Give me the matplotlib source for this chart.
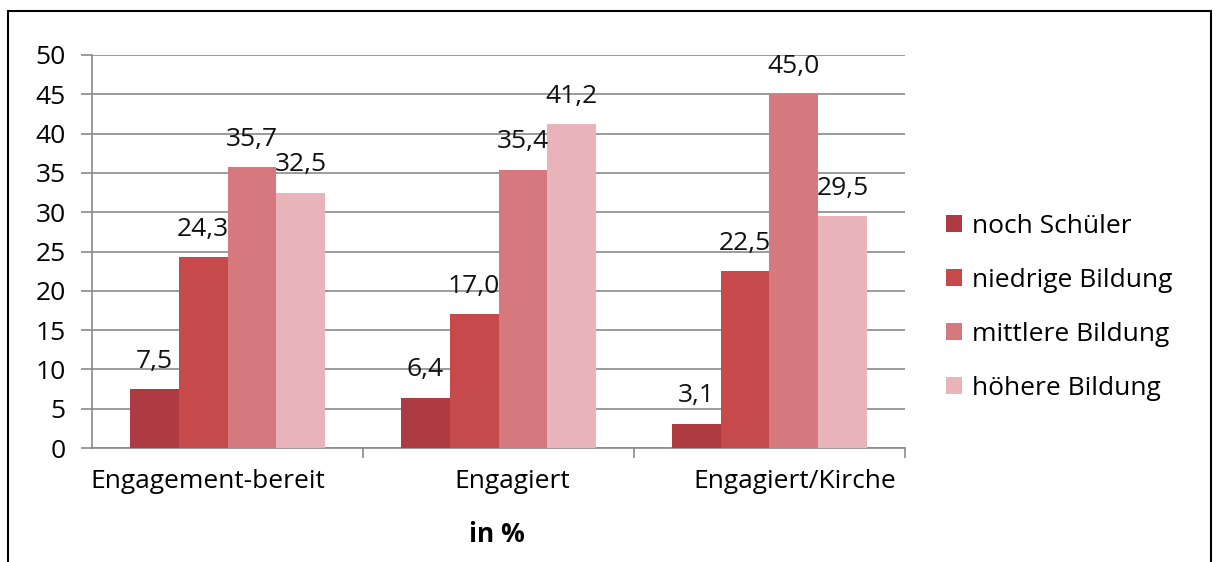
import matplotlib
matplotlib.use("Agg")
import matplotlib.pyplot as plt
import matplotlib.transforms as mtransforms
import numpy as np
from matplotlib.patches import Rectangle, Patch

categories = ["Engagement-bereit", "Engagiert", "Engagiert/Kirche"]
series_names = ["noch Schüler", "niedrige Bildung", "mittlere Bildung", "höhere Bildung"]
noch_schueler = [7.5, 6.4, 3.1]
niedrige = [24.3, 17.0, 22.5]
mittlere = [35.7, 35.4, 45.0]
hoehere = [32.5, 41.2, 29.5]
series_values = [noch_schueler, niedrige, mittlere, hoehere]
colors = ["#AE3A42", "#C64A4C", "#D6797F", "#E8B4B9"]
yticks = [0, 5, 10, 15, 20, 25, 30, 35, 40, 45, 50]

plt.rcParams['font.family'] = ['Open Sans', 'DejaVu Sans']
FS = 19

W, H = 1216, 562
fig = plt.figure(figsize=(W / 100, H / 100), dpi=100)
ax = fig.add_axes([92 / W, (H - 448) / H, (905 - 92) / W, (448 - 55) / H])

x = np.arange(len(categories))
bw = 0.18
for i, (name, vals, c) in enumerate(zip(series_names, series_values, colors)):
    pos = x + (i - 1.5) * bw
    ax.bar(pos, vals, width=bw, color=c, label=name, zorder=3)
    for p, v in zip(pos, vals):
        ax.annotate(f"{v:.1f}".replace(".", ","), (p, v), xytext=(0, 11),
                    textcoords="offset points", ha="center", va="bottom",
                    fontsize=FS, color="#111111", zorder=4)

ax.set_xlim(-0.5, 2.5)
ax.set_ylim(0, 50)
ax.set_yticks(yticks)
ax.set_yticklabels([str(t) for t in yticks], fontsize=FS)
ax.yaxis.grid(True, color="#8a8a8a", linewidth=1.2, zorder=0)
ax.tick_params(axis="y", length=8, color="#8a8a8a", width=1.2, pad=11)
ax.set_xticks(x)
ax.set_xticklabels(categories, fontsize=FS)
ax.set_xticks([0.5, 1.5, 2.5], minor=True)
ax.tick_params(axis="x", which="major", length=0, pad=15)
ax.tick_params(axis="x", which="minor", length=7, color="#8a8a8a", width=1.2)
# Excel-style label placement shifts (pixels)
label_shift_px = [-20, 14, 25]
for lab, dx in zip(ax.get_xticklabels(), label_shift_px):
    lab.set_transform(lab.get_transform() +
                      mtransforms.ScaledTranslation(dx / 100, 0, fig.dpi_scale_trans))
for s in ["top", "right"]:
    ax.spines[s].set_visible(False)
ax.spines["left"].set_color("#8a8a8a")
ax.spines["bottom"].set_color("#8a8a8a")
ax.spines["left"].set_linewidth(1.2)
ax.spines["bottom"].set_linewidth(1.2)

fig.text(497 / W, 1 - 535 / H, "in %", fontsize=FS, fontweight="bold",
         ha="center", va="center")

handles = [Patch(facecolor=c, edgecolor="none") for c in colors]
fig.legend(handles, series_names, loc="upper left",
           bbox_to_anchor=(922 / W, 1 - 190 / H), frameon=False,
           fontsize=FS, handlelength=0.6, handleheight=0.6,
           handletextpad=0.4, labelspacing=1.1)

fig.patches.append(Rectangle((8 / W, -0.05), (1211 - 8) / W, 1.05 - 11 / H,
                             transform=fig.transFigure, fill=False,
                             edgecolor="black", linewidth=1.5))

fig.savefig("out.png", dpi=100)
